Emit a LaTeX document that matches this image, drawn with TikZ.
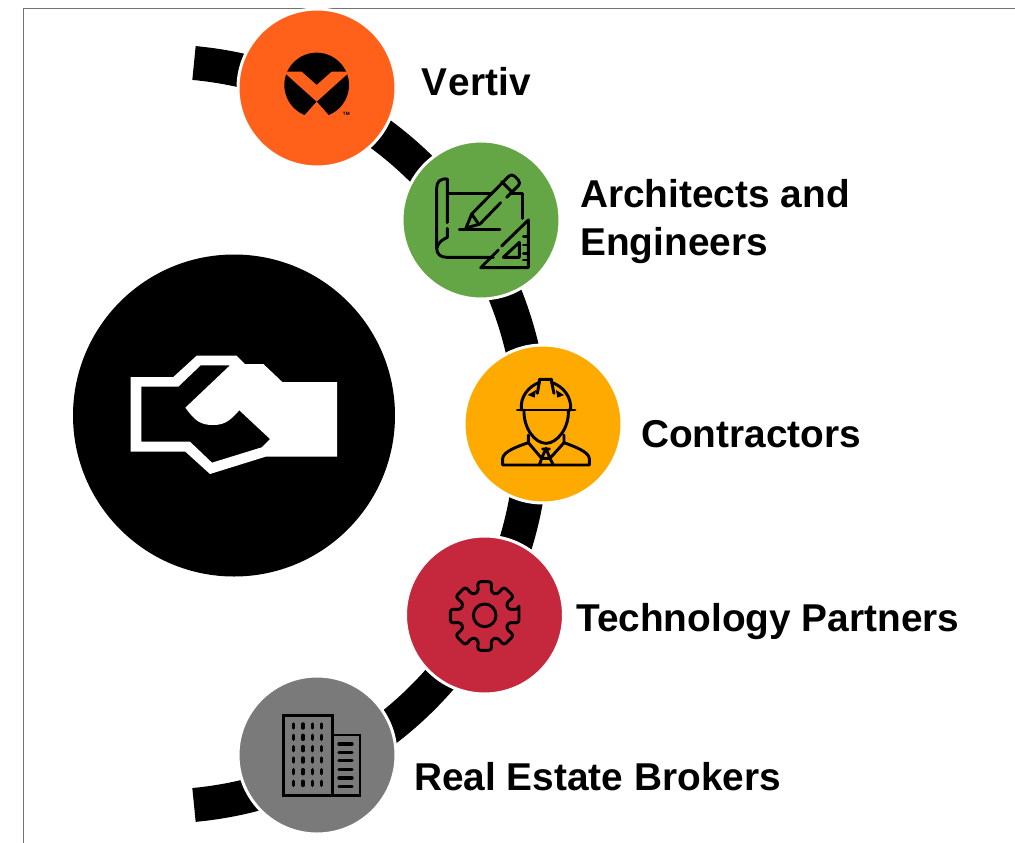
\documentclass[tikz,border=0pt]{standalone}
\usepackage{fontspec}
\setmainfont{Liberation Sans}
\definecolor{cvertiv}{HTML}{FF611A}
\definecolor{carch}{HTML}{64A645}
\definecolor{ccontr}{HTML}{FFAA00}
\definecolor{ctech}{HTML}{C5283D}
\definecolor{cbrok}{HTML}{7A7A7A}
\tikzset{
  disc/.style={circle,fill=#1,draw=white,line width=2.25pt,minimum size=118.5pt,inner sep=0pt},
  lab/.style={font=\bfseries\fontsize{29.1pt}{36pt}\selectfont,anchor=base west,align=left,inner sep=0pt,text=black},
  crop/.style={shift={#1},x=.25pt,y=-.25pt},
  ico/.style={draw=black,line width=2.2pt,line cap=round,line join=round},
}
\begin{document}
\begin{tikzpicture}[x=.75pt,y=-.75pt]
\useasboundingbox (0,0) rectangle (1015,843);
% frame
\draw[draw=black!55,line width=.75pt] (23.5,843) -- (23.5,8.5) -- (1015,8.5);
% backbone
\coordinate (arcA) at (194,63);
\draw[line width=25.5pt] (arcA) arc[start angle=-84.67,end angle=84.67,radius=372.6];
% big disc
\node[circle,fill=black,minimum size=241.5pt,inner sep=0pt] (hub) at (234,415.5) {};
\begin{scope}[crop={(100,330)}]
\fill[white,even odd rule] (92,141)--(220,141)--(290,77)--(410,77)--(435,102)--(490,102)--(547,156)--(711,156)--(711,380)--(497,380)--(330,432)--(256,365)--(92,365)--cycle
 (124,170)--(235,170)--(302,106)--(390,106)--(256,233) .. controls (285,272) and (300,285) .. (340,285) .. controls (380,285) and (395,265) .. (418,241) --(510,327)--(485,352)--(336,398)--(270,335)--(124,335)--cycle;
\end{scope}
% discs
\node[disc=cvertiv] (vertiv) at (317,88) {};
\node[disc=carch] (arch) at (481,220) {};
\node[disc=ccontr] (contr) at (543,424) {};
\node[disc=ctech] (tech) at (484.5,615) {};
\node[disc=cbrok] (brok) at (317,755) {};
% Vertiv logo
\begin{scope}[crop={(230,0)}]
\begin{scope}
\clip (110,150) rectangle (410,349);
\fill[black] (260,255) circle[radius=97];
\end{scope}
\fill[cvertiv] (160,215)--(215,215)--(260,255)--(305,215)--(360,215)--(260,305)--cycle;
\fill[cvertiv] (260,305)--(218,352)--(302,352)--cycle;
\node[font=\bfseries\fontsize{3.5pt}{4pt}\selectfont,inner sep=0pt] (tm) at (349,343) {TM};
\end{scope}
% Architects icon
\begin{scope}[crop={(230,0)}]
\draw[ico] (652,668)--(652,537) .. controls (630,535) and (620,545) .. (620,565) -- (620,745) .. controls (620,762) and (632,772) .. (650,772) -- (790,772);
\draw[ico] (652,685)--(652,712) .. controls (640,718) and (625,725) .. (620,745);
\draw[ico] (652,580)--(785,580);
\draw[ico] (840,580)--(878,580)--(878,655);
\draw[ico] (688,688)--(810,688);
\draw[ico] (708,684)--(725,642)--(835,530) .. controls (843,524) and (848,524) .. (853,528)--(865,540) .. controls (870,547) and (870,552) .. (865,557)--(830,592);
\draw[ico] (812,608)--(750,672)--(708,684);
\draw[ico] (725,642)--(743,668);
\draw[ico] (815,545)--(848,578);
\draw[ico] (895,660)--(895,803)--(752,803)--(805,750);
\draw[ico] (815,738)--(895,660);
\draw[ico] (868,727)--(868,772)--(820,772)--cycle;
\foreach \yy in {710,735,760,780} \draw[ico] (880,\yy)--(895,\yy);
\end{scope}
% Contractors icon
\begin{scope}[crop={(460,345)}]
\draw[ico] (172,195)--(345,195);
\draw[ico] (184,195) .. controls (180,155) and (205,125) .. (238,112) -- (238,103) -- (275,103)--(275,112) .. controls (310,125) and (335,155) .. (332,195);
\draw[ico] (238,112)--(232,145) (275,112)--(282,145);
\fill[black] (203,150)--(228,135)--(224,158)--cycle (312,150)--(288,135)--(292,158)--cycle;
\draw[ico] (192,195) .. controls (190,250) and (225,295) .. (258,295) .. controls (291,295) and (328,250) .. (325,195);
\draw[ico] (205,270)--(205,293) .. controls (170,305) and (130,320) .. (128,340) -- (128,360) -- (388,360) -- (388,340) .. controls (385,320) and (345,305) .. (312,293) -- (312,270);
\draw[ico] (205,293)--(245,340)--(258,310)--(270,340)--(312,293);
\draw[ico] (248,312)--(268,312) (245,340)--(238,360) (270,340)--(280,360) (245,340)--(270,340);
\end{scope}
% Gear icon
\begin{scope}[crop={(400,535)}]
\begin{scope}[shift={(254,243)}]
\draw[ico,rounded corners=2.2pt] (-11.5:105) \foreach \a in {0,45,...,315} { -- (\a-11.5:105) -- (\a+11.5:105) -- (\a+15:74) -- (\a+30:74) } -- cycle;
\draw[ico] (0,-2) circle[radius=34];
\end{scope}
\end{scope}
% Building icon
\begin{scope}[crop={(180,675)}]
\draw[ico,line cap=butt,line join=miter] (310,362) rectangle (457,122);
\draw[ico,line cap=butt,line join=miter] (457,180)--(540,180)--(540,362)--(457,362);
\foreach \xx in {341,369,397,425} \foreach \yy in {153,187,221,255,290,325}
  \draw[ico,line width=2.6pt] (\xx,\yy-6)--(\xx,\yy+6);
\foreach \yy in {207,232,257,283,309,334}
  \draw[ico,line width=2.6pt] (477,\yy)--(516,\yy);
\end{scope}
% labels
\node[lab] (l1) at (421,95) {V\kern1.2pt ertiv};
\node[lab] (l2) at (580,255) {Architects and\\Engineers};
\node[lab] (l3) at (641,447) {Contractors};
\node[lab] (l4) at (576,631) {Technology Partners};
\node[lab] (l5) at (414,790) {Real Estate Brokers};
\end{tikzpicture}
\end{document}
